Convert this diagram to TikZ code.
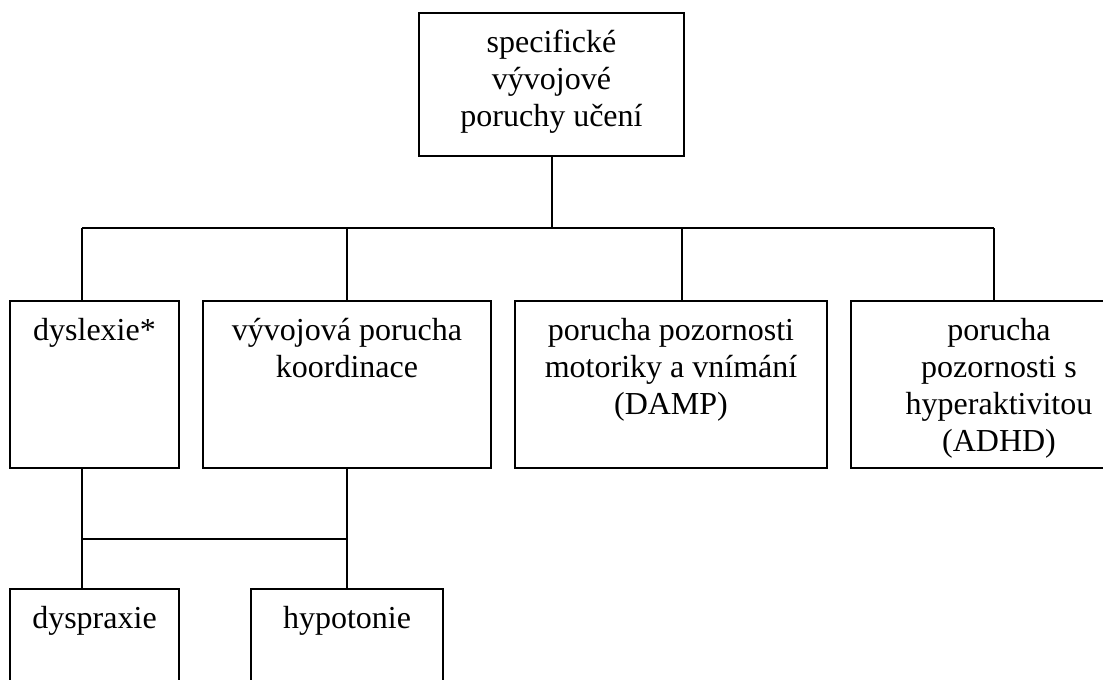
\documentclass[tikz,border=0pt]{standalone}
\usepackage{fontspec}
\setmainfont{Liberation Serif}
\usetikzlibrary{positioning}
\tikzstyle{box}=[draw, line width=1pt, anchor=north west, inner sep=0pt]
\tikzstyle{txt}=[align=center, inner sep=0pt, font=\fontsize{16}{18.5}\selectfont]
\tikzstyle{link}=[line width=1pt]

\begin{document}
\begin{tikzpicture}[x=0.5pt, y=-0.5pt]
	\useasboundingbox (0,0) rectangle (1103,680);
	\clip (0,0) rectangle (1103,680);
	% boxes
	\node	[box, minimum width=132.5pt, minimum height=71.5pt]	(spec) at (418,12) {};
	\node	[box, minimum width=84.5pt, minimum height=83.5pt]	(dys)  at (9,300) {};
	\node	[box, minimum width=144pt, minimum height=83.5pt]	(vyv)  at (202,300) {};
	\node	[box, minimum width=156pt, minimum height=83.5pt]	(damp) at (514,300) {};
	\node	[box, minimum width=148pt, minimum height=83.5pt]	(adhd) at (850,300) {};
	\node	[box, minimum width=84.5pt, minimum height=70pt]	(dyp)  at (9,588) {};
	\node	[box, minimum width=96pt, minimum height=70pt]		(hyp)  at (250,588) {};
	% texts
	\node	[txt]	(spec-t) [below=9pt of spec.north] {specifické\\vývojové\\poruchy učení};
	\node	[txt]	(dys-t)  [below=9pt of dys.north]  {dyslexie*};
	\node	[txt]	(vyv-t)  [below=9pt of vyv.north]  {vývojová porucha\\koordinace};
	\node	[txt]	(damp-t) [below=9pt of damp.north] {porucha pozornosti\\motoriky a vnímání\\(DAMP)};
	\node	[txt]	(adhd-t) [below=9pt of adhd.north] {porucha\\pozornosti s\\hyperaktivitou\\(ADHD)};
	\node	[txt]	(dyp-t)  [below=9pt of dyp.north]  {dyspraxie};
	\node	[txt]	(hyp-t)  [below=9pt of hyp.north]  {hypotonie};
	% connectors
	\coordinate (busL) at (82,228);
	\coordinate (busR) at (994,228);
	\coordinate (busD) at (682,228);
	\coordinate (lowL) at (82,539);
	\coordinate (lowR) at (346,539);
	\draw[link] (spec.south) -- (spec.south |- busL);
	\draw[link] (busL) -- (busR);
	\draw[link] (busL) -- (busL |- dys.north);
	\draw[link] (vyv.north) -- (vyv.north |- busL);
	\draw[link] (busD) -- (busD |- damp.north);
	\draw[link] (busR) -- (busR |- adhd.north);
	\draw[link] (lowL |- dys.south) -- (lowL |- dyp.north);
	\draw[link] (vyv.south) -- (vyv.south |- hyp.north);
	\draw[link] (lowL) -- (lowR);
\end{tikzpicture}
\end{document}
